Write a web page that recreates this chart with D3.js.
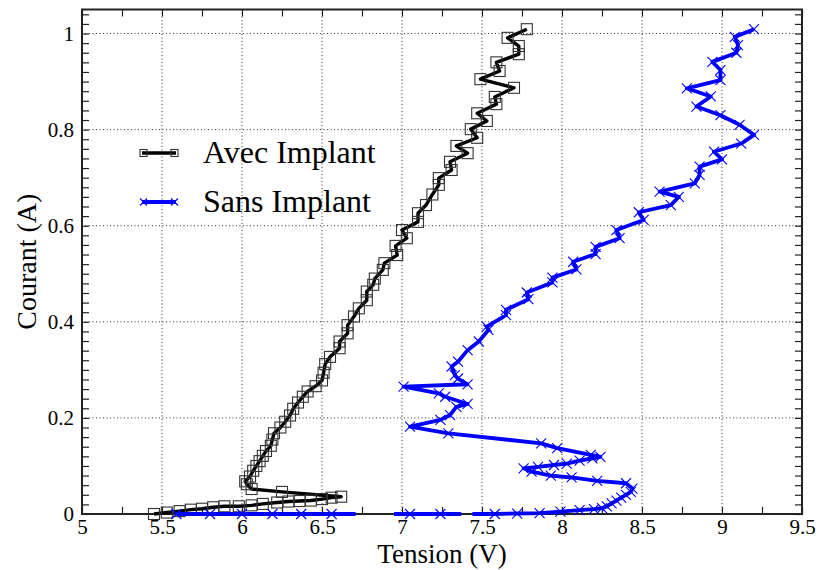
<!DOCTYPE html>
<html><head><meta charset="utf-8">
<script src="https://cdn.jsdelivr.net/npm/d3@7"></script>
<style>
body{margin:0;background:#fff}
svg text{font-family:"Liberation Serif","Times New Roman",Times,serif;fill:#000}
</style></head>
<body><svg id="c" width="820" height="570"></svg>
<script>
// ---- data ----
const seriesNames = ["Avec Implant", "Sans Implant"];
const xTickValues = [5, 5.5, 6, 6.5, 7, 7.5, 8, 8.5, 9, 9.5];
const xTickLabels = ["5", "5.5", "6", "6.5", "7", "7.5", "8", "8.5", "9", "9.5"];
const yTickValues = [0, 0.2, 0.4, 0.6, 0.8, 1];
const yTickLabels = ["0", "0.2", "0.4", "0.6", "0.8", "1"];
const xLabel = "Tension (V)";
const yLabel = "Courant (A)";

// Avec Implant: tension (V) and courant (A)
const avecTension = [5.45,5.53,5.61,5.68,5.75,5.82,5.89,5.98,6.06,6.13,6.22,6.29,6.36,6.43,6.50,6.56,6.62,
  6.25,6.06,6.03,6.02,6.05,6.07,6.09,6.11,6.13,6.15,6.18,6.19,6.20,6.24,6.27,6.30,6.32,6.35,6.38,6.41,6.46,
  6.50,6.51,6.52,6.55,6.61,6.61,6.66,6.66,6.70,6.73,6.78,6.78,6.82,6.83,6.88,6.89,6.97,6.96,7.03,7.00,7.10,
  7.10,7.15,7.19,7.23,7.23,7.31,7.30,7.41,7.34,7.47,7.43,7.53,7.47,7.59,7.58,7.70,7.49,7.61,7.59,7.73,7.73,
  7.66,7.78];
const avecCourant = [0.000,0.003,0.006,0.009,0.011,0.014,0.016,0.016,0.018,0.021,0.024,0.026,0.027,0.028,0.031,0.034,0.036,
  0.046,0.052,0.062,0.068,0.078,0.090,0.100,0.110,0.121,0.131,0.142,0.155,0.168,0.180,0.192,0.205,0.219,0.232,0.244,0.255,0.266,
  0.278,0.294,0.312,0.327,0.345,0.359,0.376,0.393,0.411,0.428,0.445,0.463,0.477,0.490,0.508,0.522,0.539,0.558,0.574,0.591,0.608,
  0.626,0.643,0.665,0.685,0.699,0.716,0.733,0.751,0.766,0.783,0.801,0.818,0.834,0.853,0.868,0.887,0.905,0.922,0.940,0.957,0.974,
  0.991,1.009];

// Sans Implant (null = gap in the recorded curve)
const sansTension = [5.59,5.80,6.00,6.19,6.37,6.56,6.71,null,6.95,7.05,7.24,7.37,null,7.44,7.58,7.72,7.86,7.99,8.11,8.20,8.25,
  8.28,8.31,8.34,8.37,8.40,8.43,8.44,8.40,8.22,8.06,7.93,7.81,7.76,7.85,7.95,8.03,8.11,8.19,8.24,8.18,7.97,7.87,7.29,7.05,
  7.24,7.30,7.34,7.41,7.27,7.23,7.01,7.41,7.35,7.33,7.31,7.35,7.41,7.48,7.54,7.53,7.65,7.65,7.79,7.78,7.94,7.94,8.09,8.07,
  8.21,8.21,8.36,8.34,8.51,8.48,8.68,8.73,8.61,8.83,8.86,8.86,9.00,8.95,9.12,9.20,9.11,8.99,8.84,8.93,8.78,8.99,8.99,8.94,
  9.09,9.10,9.08,9.20];
const sansCourant = [0,0,0,0,0,0,0,null,0,0,0,0,null,0,0,0.001,0.002,0.005,0.008,0.010,0.012,
  0.016,0.022,0.028,0.034,0.040,0.046,0.053,0.064,0.069,0.076,0.080,0.088,0.095,0.098,0.102,0.105,0.111,0.116,0.119,0.123,0.137,0.147,0.168,0.182,
  0.196,0.206,0.223,0.229,0.244,0.251,0.265,0.270,0.282,0.289,0.307,0.317,0.341,0.359,0.383,0.390,0.414,0.425,0.447,0.461,0.482,0.492,0.509,0.525,
  0.541,0.556,0.574,0.591,0.612,0.628,0.643,0.660,0.671,0.688,0.706,0.723,0.738,0.754,0.771,0.789,0.810,0.830,0.848,0.869,0.886,0.903,0.924,0.941,
  0.960,0.976,0.993,1.009];

// ---- layout ----
const svg = d3.select("#c");
const L = 82, R = 802, T = 9.5, B = 514;
const x = d3.scaleLinear().domain([5, 9.5]).range([L, R]);
const y = d3.scaleLinear().domain([0, 1.05]).range([B, T]);

const avec = avecTension.map((v, i) => ({x: v, y: avecCourant[i]}));
const sans = sansTension.map((v, i) => ({x: v, y: sansCourant[i]}));

// grid
const grid = svg.append("g");
grid.selectAll("line.gx").data(xTickValues.filter(v => v > 5 && v < 9.5)).join("line")
  .attr("x1", d => x(d)).attr("x2", d => x(d)).attr("y1", T).attr("y2", B)
  .attr("stroke", "#333").attr("stroke-width", 1).attr("stroke-dasharray", "1,2.5");
grid.selectAll("line.gy").data(yTickValues.filter(v => v > 0)).join("line")
  .attr("y1", d => y(d)).attr("y2", d => y(d)).attr("x1", L).attr("x2", R)
  .attr("stroke", "#333").attr("stroke-width", 1).attr("stroke-dasharray", "1,2.5");

// minor ticks (inward) via axes
const xMinor = d3.range(5, 9.5001, 0.25);
const yMinor = d3.range(0, 1.0501, 0.02);
function tickAxis(axis){
  return g => { g.call(axis); g.select(".domain").remove(); g.selectAll("text").remove();
    g.selectAll("line").attr("stroke", "#222").attr("stroke-width", 1.2); };
}
svg.append("g").attr("transform", `translate(0,${B})`).call(tickAxis(d3.axisBottom(x).tickValues(xMinor).tickSizeInner(-7).tickSizeOuter(0)));
svg.append("g").attr("transform", `translate(0,${T})`).call(tickAxis(d3.axisTop(x).tickValues(xMinor).tickSizeInner(-7).tickSizeOuter(0)));
svg.append("g").attr("transform", `translate(${L},0)`).call(tickAxis(d3.axisLeft(y).tickValues(yMinor).tickSizeInner(-7).tickSizeOuter(0)));
svg.append("g").attr("transform", `translate(${R},0)`).call(tickAxis(d3.axisRight(y).tickValues(yMinor).tickSizeInner(-7).tickSizeOuter(0)));

// tick labels through axes
const xAx = svg.append("g").attr("transform", `translate(0,${B})`)
  .call(d3.axisBottom(x).tickValues(xTickValues).tickFormat((d, i) => xTickLabels[i]).tickSize(0).tickPadding(5));
xAx.select(".domain").remove();
xAx.selectAll("text").attr("font-size", 21).attr("font-family", "Liberation Serif").attr("fill", "#000");
const yAx = svg.append("g").attr("transform", `translate(${L},0)`)
  .call(d3.axisLeft(y).tickValues(yTickValues).tickFormat((d, i) => yTickLabels[i]).tickSize(0).tickPadding(8));
yAx.select(".domain").remove();
yAx.selectAll("text").attr("font-size", 21).attr("font-family", "Liberation Serif").attr("fill", "#000");

// frame
svg.append("rect").attr("x", L).attr("y", T).attr("width", R - L).attr("height", B - T)
  .attr("fill", "none").attr("stroke", "#222").attr("stroke-width", 2);

// axis titles
svg.append("text").attr("x", (L + R) / 2).attr("y", 563).attr("text-anchor", "middle")
  .attr("font-size", 27).text(xLabel);
svg.append("text").attr("transform", `translate(36,${(T + B) / 2}) rotate(-90)`).attr("text-anchor", "middle")
  .attr("font-size", 28).text(yLabel);

// series
const line = d3.line().defined(d => d.x != null && d.y != null).x(d => x(d.x)).y(d => y(d.y));
const plot = svg.append("g");

// Avec Implant (black, squares)
plot.append("path").datum(avec).attr("d", line).attr("fill", "none").attr("stroke", "#000")
  .attr("stroke-width", 3.4).attr("stroke-linejoin", "round");
const sq = 11;
plot.selectAll("rect.m").data(avec).join("rect").attr("class", "m")
  .attr("x", d => x(d.x) - sq / 2).attr("y", d => y(d.y) - sq / 2).attr("width", sq).attr("height", sq)
  .attr("fill", "none").attr("stroke", "#333").attr("stroke-width", 1.1);

// Sans Implant (blue, crosses)
const blue = "#0000ff";
plot.append("path").datum(sans).attr("d", line).attr("fill", "none").attr("stroke", blue)
  .attr("stroke-width", 3.8).attr("stroke-linejoin", "round");
const markerPts = sans.filter((d, i) => d.x != null &&
  !(i > 0 && sans[i - 1].x == null) && !(i < sans.length - 1 && sans[i + 1].x == null));
const cs = 5;
plot.selectAll("path.x").data(markerPts).join("path").attr("class", "x")
  .attr("d", d => { const px = x(d.x), py = y(d.y);
    return `M${px - cs},${py - cs}L${px + cs},${py + cs}M${px - cs},${py + cs}L${px + cs},${py - cs}`; })
  .attr("stroke", blue).attr("stroke-width", 1.1).attr("fill", "none");

// legend
const lg = svg.append("g");
const legendRows = [{name: seriesNames[0], color: "#000", sym: "sq", yy: 153},
                    {name: seriesNames[1], color: blue, sym: "x", yy: 202}];
legendRows.forEach(r => {
  lg.append("line").attr("x1", 142).attr("x2", 176).attr("y1", r.yy).attr("y2", r.yy)
    .attr("stroke", r.color).attr("stroke-width", r.sym === "sq" ? 3.4 : 3.8);
  [143.5, 174.5].forEach(cx => {
    if (r.sym === "sq") {
      lg.append("rect").attr("x", cx - 3.5).attr("y", r.yy - 3.5).attr("width", 7).attr("height", 7)
        .attr("fill", "none").attr("stroke", "#333").attr("stroke-width", 1.1);
    } else {
      const c = 3.5;
      lg.append("path").attr("d", `M${cx - c},${r.yy - c}L${cx + c},${r.yy + c}M${cx - c},${r.yy + c}L${cx + c},${r.yy - c}`)
        .attr("stroke", blue).attr("stroke-width", 1.1);
    }
  });
  lg.append("text").attr("x", 203).attr("y", r.yy + 10).attr("font-size", 32).text(r.name);
});
</script>
</body></html>
